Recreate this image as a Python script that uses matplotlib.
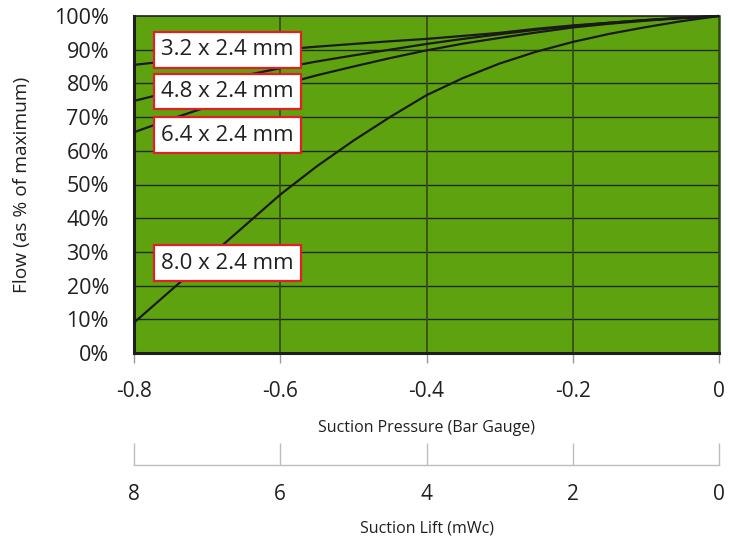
import matplotlib
matplotlib.use("Agg")
import matplotlib.pyplot as plt

plt.rcParams['font.family'] = ['Open Sans', 'DejaVu Sans']

# ---- data ----
pressure = [-0.8, -0.75, -0.7, -0.65, -0.6, -0.55, -0.5, -0.45, -0.4, -0.35,
            -0.3, -0.25, -0.2, -0.15, -0.1, -0.05, 0.0]
flow_32 = [85.5, 86.7, 87.8, 88.9, 90.0, 90.9, 91.7, 92.5, 93.2, 94.1,
           95.0, 96.2, 97.2, 98.0, 98.8, 99.4, 100]
flow_48 = [74.8, 77.5, 80.0, 82.3, 84.5, 86.5, 88.3, 90.0, 91.7, 93.2,
           94.6, 95.9, 97.0, 98.0, 98.8, 99.5, 100]
flow_64 = [65.5, 69.4, 73.0, 76.4, 79.5, 82.4, 85.0, 87.5, 89.8, 91.8,
           93.5, 95.1, 96.6, 97.7, 98.6, 99.4, 100]
flow_80 = [9.0, 18.5, 28.0, 37.5, 47.0, 55.4, 63.0, 70.0, 76.5, 81.6,
           85.9, 89.4, 92.3, 94.7, 96.7, 98.5, 100]
series_labels = ["3.2 x 2.4 mm", "4.8 x 2.4 mm", "6.4 x 2.4 mm", "8.0 x 2.4 mm"]
label_y = [90.0, 77.6, 64.6, 26.7]

x_ticks = [-0.8, -0.6, -0.4, -0.2, 0]
x_ticklabels = ["-0.8", "-0.6", "-0.4", "-0.2", "0"]
y_ticks = list(range(0, 101, 10))
y_ticklabels = [f"{v}%" for v in y_ticks]
lift_ticks = [8, 6, 4, 2, 0]
lift_ticklabels = ["8", "6", "4", "2", "0"]

TXT = '#231f20'
GREEN = '#5ea30f'

W, H = 729, 539
fig = plt.figure(figsize=(W / 100, H / 100), dpi=100)

L, R, T, B = 134, 719, 16, 353
ax = fig.add_axes([L / W, 1 - B / H, (R - L) / W, (B - T) / H])
ax.set_facecolor(GREEN)
ax.set_xlim(-0.8, 0)
ax.set_ylim(0, 100)

for v in y_ticks[1:-1]:
    ax.axhline(v, color='#1f2a14', lw=1.0, zorder=1)
for v in x_ticks[1:-1]:
    ax.axvline(v, color='#354f1a', lw=1.3, zorder=1)

for ys in (flow_32, flow_48, flow_64, flow_80):
    ax.plot(pressure, ys, color='#1a1a1a', lw=1.6, zorder=3, clip_on=False,
            solid_capstyle='butt', solid_joinstyle='round')

for lab, yv in zip(series_labels, label_y):
    ax.text(-0.7727 + 0.0095, yv, lab, fontsize=16, color=TXT, va='center', ha='left',
            zorder=5,
            bbox=dict(boxstyle='square,pad=0.33', fc='white', ec='#e31e24', lw=1.6))

ax.set_xticks(x_ticks)
ax.set_xticklabels(x_ticklabels)
ax.set_yticks(y_ticks)
ax.set_yticklabels(y_ticklabels)
ax.tick_params(axis='x', direction='out', length=7, width=1, color='#9a9a9a',
               labelsize=15, labelcolor=TXT, pad=13)
ax.tick_params(axis='y', length=0, labelsize=15.5, labelcolor=TXT, pad=18)

ax.spines['left'].set_linewidth(2.2)
ax.spines['left'].set_color('#1e1e1e')
ax.spines['bottom'].set_linewidth(2.2)
ax.spines['bottom'].set_color('#1e1e1e')
ax.spines['top'].set_linewidth(1.2)
ax.spines['top'].set_color('#1e1e1e')
ax.spines['right'].set_linewidth(1.8)
ax.spines['right'].set_color('#2c4a12')

ax.set_xlabel("Suction Pressure (Bar Gauge)", fontsize=11.5, color=TXT, labelpad=13)
ax.set_ylabel("Flow (as % of maximum)", fontsize=13.8, color=TXT, labelpad=17)

# secondary lift axis
ly = 465
ax2 = fig.add_axes([L / W, 1 - ly / H, (R - L) / W, 0.04])
ax2.set_xlim(8, 0)
ax2.set_ylim(0, 1)
ax2.patch.set_visible(False)
for s in ('top', 'left', 'right'):
    ax2.spines[s].set_visible(False)
ax2.spines['bottom'].set_color('#bdbdbd')
ax2.spines['bottom'].set_linewidth(1.0)
ax2.set_yticks([])
ax2.set_xticks(lift_ticks)
ax2.set_xticklabels(lift_ticklabels)
ax2.tick_params(axis='x', direction='in', length=16, width=1, color='#bdbdbd',
                labelsize=15, labelcolor=TXT, pad=14)
ax2.set_xlabel("Suction Lift (mWc)", fontsize=11.5, color=TXT, labelpad=11)

fig.savefig("out.png", dpi=100)
